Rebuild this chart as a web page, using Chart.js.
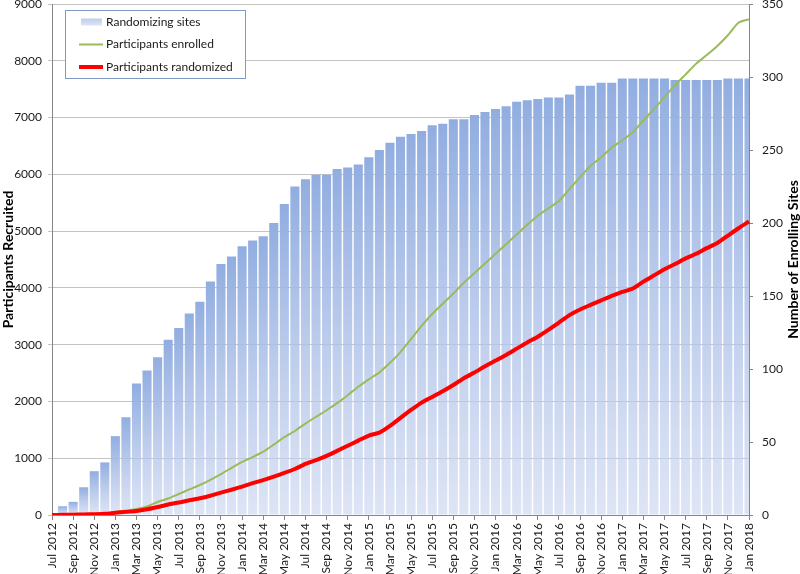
<!DOCTYPE html>
<html>
<head>
<meta charset="utf-8">
<title>Participants recruited and enrolling sites</title>
<script src="https://cdn.jsdelivr.net/npm/chart.js@4.4.0/dist/chart.umd.min.js"></script>
<style>
    body { margin: 0; background: #fff; }
    canvas { display: block; }
</style>
</head>
<body>
<canvas id="chart" width="800" height="574"></canvas>
<script>
const months = [
    'Jul 2012', 'Aug 2012', 'Sep 2012', 'Oct 2012', 'Nov 2012', 'Dec 2012',
    'Jan 2013', 'Feb 2013', 'Mar 2013', 'Apr 2013', 'May 2013', 'Jun 2013',
    'Jul 2013', 'Aug 2013', 'Sep 2013', 'Oct 2013', 'Nov 2013', 'Dec 2013',
    'Jan 2014', 'Feb 2014', 'Mar 2014', 'Apr 2014', 'May 2014', 'Jun 2014',
    'Jul 2014', 'Aug 2014', 'Sep 2014', 'Oct 2014', 'Nov 2014', 'Dec 2014',
    'Jan 2015', 'Feb 2015', 'Mar 2015', 'Apr 2015', 'May 2015', 'Jun 2015',
    'Jul 2015', 'Aug 2015', 'Sep 2015', 'Oct 2015', 'Nov 2015', 'Dec 2015',
    'Jan 2016', 'Feb 2016', 'Mar 2016', 'Apr 2016', 'May 2016', 'Jun 2016',
    'Jul 2016', 'Aug 2016', 'Sep 2016', 'Oct 2016', 'Nov 2016', 'Dec 2016',
    'Jan 2017', 'Feb 2017', 'Mar 2017', 'Apr 2017', 'May 2017', 'Jun 2017',
    'Jul 2017', 'Aug 2017', 'Sep 2017', 'Oct 2017', 'Nov 2017', 'Dec 2017',
    'Jan 2018'
];

// right axis: number of randomizing sites
const randomizingSites = [
    0, 6, 9, 19, 30, 36,
    54, 67, 90, 99, 108, 120,
    128, 138, 146, 160, 172, 177,
    184, 188, 191, 200, 213, 225,
    230, 233, 233, 237, 238, 240,
    245, 250, 255, 259, 261, 263,
    267, 268, 271, 271, 274, 276,
    278, 280, 283, 284, 285, 286,
    286, 288, 294, 294, 296, 296,
    299, 299, 299, 299, 299, 298,
    298, 298, 298, 298, 299, 299,
    299
];

// left axis: cumulative participants
const participantsEnrolled = [
    0, 2, 5, 10, 15, 25,
    55, 80, 105, 150, 230, 290,
    370, 450, 528, 620, 720, 830,
    935, 1020, 1115, 1240, 1370, 1480,
    1610, 1730, 1845, 1970, 2110, 2260,
    2390, 2510, 2680, 2870, 3100, 3330,
    3540, 3720, 3900, 4090, 4260, 4430,
    4600, 4770, 4940, 5110, 5270, 5400,
    5530, 5740, 5950, 6150, 6300, 6470,
    6600, 6740, 6950, 7150, 7360, 7570,
    7760, 7950, 8100, 8260, 8450, 8670,
    8730
];

const participantsRandomized = [
    0, 3, 6, 10, 14, 20,
    38, 55, 70, 100, 140, 185,
    220, 260, 294, 340, 395, 445,
    500, 560, 615, 675, 740, 810,
    900, 965, 1040, 1130, 1220, 1310,
    1400, 1450, 1570, 1710, 1850, 1980,
    2080, 2180, 2290, 2410, 2510, 2620,
    2720, 2820, 2930, 3040, 3140, 3260,
    3390, 3520, 3620, 3700, 3780, 3860,
    3930, 3990, 4110, 4220, 4330, 4420,
    4520, 4600, 4700, 4790, 4920, 5050,
    5170
];

const leftTitle = 'Participants Recruited';
const rightTitle = 'Number of Enrolling Sites';

const barTop = '#91ade0';
const barBottom = 'rgba(203,214,240,0.65)';
const greenLine = '#9bbb59';
const redLine = '#ff0000';

Chart.defaults.font.family = 'Lato, "Liberation Sans", sans-serif';
Chart.defaults.font.size = 12;
Chart.defaults.color = '#1a1a1a';

// each bar gets its own top-to-bottom gradient
const barFill = (ctx) => {
    const chart = ctx.chart;
    if (!chart.chartArea || ctx.type !== 'data') return barTop;
    const scale = chart.scales.sites;
    const top = scale.getPixelForValue(ctx.raw);
    const bottom = scale.getPixelForValue(0);
    if (!(bottom - top > 0.5)) return barTop;
    const g = chart.ctx.createLinearGradient(0, top, 0, bottom);
    g.addColorStop(0, barTop);
    g.addColorStop(1, barBottom);
    return g;
};

const legendBox = {
    id: 'legendBox',
    afterDraw(chart) {
        const c = chart.ctx;
        const sets = chart.data.datasets;
        c.save();
        c.fillStyle = '#fff';
        c.fillRect(65.5, 10.5, 180, 68);
        c.strokeStyle = '#7f9ac6';
        c.lineWidth = 1;
        c.strokeRect(65.5, 10.5, 180, 68);

        const rows = [22, 44.5, 67];
        // bar swatch
        const g = c.createLinearGradient(0, rows[0] - 4, 0, rows[0] + 4);
        g.addColorStop(0, '#bccced');
        g.addColorStop(1, '#dfe6f6');
        c.fillStyle = g;
        c.fillRect(81, rows[0] - 3.5, 21, 7);
        // line swatches
        c.lineCap = 'butt';
        c.strokeStyle = sets[1].borderColor;
        c.lineWidth = sets[1].borderWidth;
        c.beginPath(); c.moveTo(79, rows[1]); c.lineTo(103, rows[1]); c.stroke();
        c.strokeStyle = sets[2].borderColor;
        c.lineWidth = sets[2].borderWidth;
        c.beginPath(); c.moveTo(79, rows[2]); c.lineTo(103, rows[2]); c.stroke();

        c.fillStyle = '#1a1a1a';
        c.font = '12px ' + Chart.defaults.font.family;
        c.textBaseline = 'middle';
        c.textAlign = 'left';
        sets.forEach((ds, i) => c.fillText(ds.label, 106, rows[i]));
        c.restore();
    }
};

const rightAxisTitle = {
    id: 'rightAxisTitle',
    afterDraw(chart) {
        const c = chart.ctx;
        const area = chart.chartArea;
        c.save();
        c.translate(793, (area.top + area.bottom) / 2);
        c.rotate(-Math.PI / 2);
        c.font = 'bold 14px ' + Chart.defaults.font.family;
        c.fillStyle = '#000';
        c.textAlign = 'center';
        c.textBaseline = 'middle';
        c.fillText(rightTitle, 0, 0);
        c.restore();
    }
};

const chart = new Chart(document.getElementById('chart'), {
    data: {
        labels: months,
        datasets: [
            {
                type: 'bar',
                label: 'Randomizing sites',
                data: randomizingSites,
                yAxisID: 'sites',
                backgroundColor: barFill,
                borderWidth: 0,
                categoryPercentage: 1,
                barPercentage: 0.86,
                order: 3
            },
            {
                type: 'line',
                label: 'Participants enrolled',
                data: participantsEnrolled,
                yAxisID: 'y',
                borderColor: greenLine,
                backgroundColor: greenLine,
                borderWidth: 2,
                pointRadius: 0,
                tension: 0.2,
                order: 2
            },
            {
                type: 'line',
                label: 'Participants randomized',
                data: participantsRandomized,
                yAxisID: 'y',
                borderColor: redLine,
                backgroundColor: redLine,
                borderWidth: 4,
                pointRadius: 0,
                tension: 0.2,
                order: 1
            }
        ]
    },
    options: {
        responsive: false,
        animation: false,
        devicePixelRatio: 1,
        layout: { padding: { top: 4, left: 0, right: 0, bottom: 0 } },
        plugins: {
            legend: { display: false },
            tooltip: { enabled: false }
        },
        scales: {
            x: {
                type: 'category',
                offset: false,
                grid: { offset: false, drawOnChartArea: false, drawTicks: true, tickLength: 5, color: '#868686' },
                border: { color: '#868686' },
                afterBuildTicks: axis => {
                    axis.ticks = axis.ticks.filter(t => t.value % 2 === 0);
                },
                ticks: { autoSkip: false, minRotation: 90, maxRotation: 90, padding: 3 },
                afterFit: axis => { axis.height = 59; }
            },
            y: {
                position: 'left',
                min: 0,
                max: 9000,
                ticks: { stepSize: 1000, padding: 6, callback: v => String(v) },
                grid: { color: '#c4c4c4', tickLength: 4 },
                border: { color: '#868686' },
                title: { display: true, text: leftTitle, color: '#000', padding: 0, font: { size: 14, weight: 'bold' } },
                afterFit: s => { s.width = 52; s.paddingTop = 0; s.paddingBottom = 0; }
            },
            sites: {
                position: 'right',
                min: 0,
                max: 350,
                ticks: { stepSize: 50, padding: 9 },
                grid: { drawOnChartArea: false, tickLength: 4, color: '#868686' },
                border: { color: '#868686' },
                afterFit: s => { s.width = 51; s.paddingTop = 0; s.paddingBottom = 0; }
            }
        }
    },
    plugins: [legendBox, rightAxisTitle]
});
chart.update();
</script>
</body>
</html>
